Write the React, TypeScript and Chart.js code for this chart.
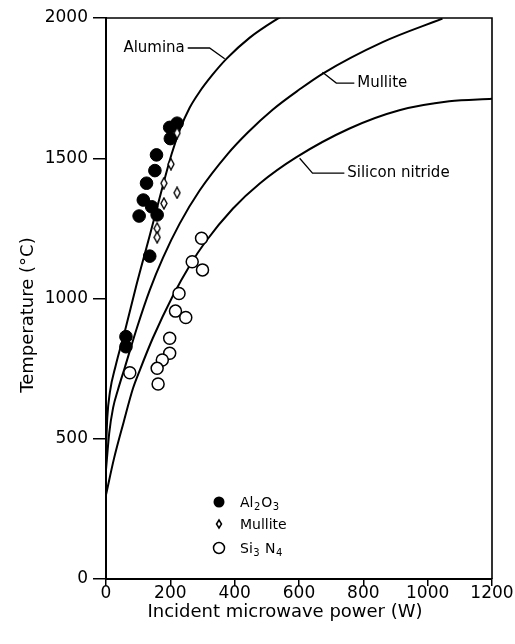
import React, { useEffect, useRef } from 'react';
import { Chart, registerables } from 'chart.js';

Chart.register(...registerables);

const FONT = '"DejaVu Sans", sans-serif';

// Axis ticks
const xTickValues = [0, 200, 400, 600, 800, 1000, 1200];
const yTickValues = [0, 500, 1000, 1500, 2000];

// Model curves (incident power W, temperature °C)
const aluminaP = [0, 4, 12, 30, 59, 95, 136, 167, 204, 230, 260, 291, 330, 375, 447, 530, 560];
const aluminaT = [460, 575, 665, 760, 885, 1050, 1225, 1360, 1515, 1603, 1680, 1737, 1796, 1855, 1930, 1995, 2015];

const mulliteP = [0, 10, 22, 37, 59, 96, 136, 177, 229, 291, 378, 440, 518, 600, 674, 860, 1046];
const mulliteT = [390, 520, 610, 674, 756, 895, 1030, 1145, 1267, 1385, 1515, 1591, 1673, 1744, 1802, 1914, 1998];

const siliconP = [0, 25, 55, 84, 105, 146, 208, 260, 306, 394, 478, 591, 757, 912, 1067, 1200];
const siliconT = [300, 430, 560, 680, 744, 860, 1010, 1117, 1197, 1320, 1410, 1503, 1606, 1671, 1703, 1712];

// Measured points
const al2o3P = [221, 198, 200, 157, 152, 126, 116, 142, 103, 159, 136, 62, 62];
const al2o3T = [1625, 1610, 1570, 1512, 1456, 1411, 1351, 1327, 1294, 1298, 1151, 864, 828];

const mullitePtP = [221, 202, 180, 221, 180, 159, 159];
const mullitePtT = [1590, 1479, 1411, 1377, 1339, 1250, 1218];

const si3n4P = [297, 268, 300, 227, 216, 248, 198, 198, 175, 159, 162, 74];
const si3n4T = [1215, 1131, 1102, 1018, 955, 932, 858, 805, 781, 751, 695, 735];

const curveLabels = ['Alumina', 'Mullite', 'Silicon nitride'];
const legendLabels = [
  [['Al', 0], ['2', 1], ['O', 0], ['3', 1]],
  [['Mullite', 0]],
  [['Si', 0], ['3', 1], [' N', 0], ['4', 1]],
];

const toXY = (xs: number[], ys: number[]) => xs.map((x, i) => ({ x, y: ys[i] }));

function diamondCanvas(w: number, h: number, lw: number) {
  const c = document.createElement('canvas');
  c.width = w + 2;
  c.height = h + 2;
  const ctx = c.getContext('2d')!;
  ctx.fillStyle = '#fff';
  ctx.strokeStyle = '#000';
  ctx.lineWidth = lw;
  ctx.beginPath();
  ctx.moveTo(c.width / 2, 1);
  ctx.lineTo(c.width - 1, c.height / 2);
  ctx.lineTo(c.width / 2, c.height - 1);
  ctx.lineTo(1, c.height / 2);
  ctx.closePath();
  ctx.fill();
  ctx.stroke();
  return c;
}

const decorPlugin = {
  id: 'decor',
  afterDraw(chart: any) {
    const { ctx, chartArea, scales } = chart;
    const xs = scales.x;
    const ys = scales.y;
    const px = (v: number) => xs.getPixelForValue(v);
    const py = (v: number) => ys.getPixelForValue(v);
    ctx.save();
    // frame (top/right)
    ctx.strokeStyle = '#000';
    ctx.lineWidth = 1.6;
    ctx.beginPath();
    ctx.moveTo(chartArea.left, chartArea.top);
    ctx.lineTo(chartArea.right, chartArea.top);
    ctx.lineTo(chartArea.right, chartArea.bottom);
    ctx.stroke();

    // curve labels with leaders
    ctx.lineWidth = 1.3;
    ctx.fillStyle = '#000';
    ctx.font = `15px ${FONT}`;
    ctx.textBaseline = 'middle';
    // Alumina
    ctx.beginPath();
    ctx.moveTo(px(254), py(1893));
    ctx.lineTo(px(322), py(1893));
    ctx.lineTo(px(369), py(1855));
    ctx.stroke();
    ctx.textAlign = 'right';
    ctx.fillText(curveLabels[0], px(245), py(1893));
    // Mullite
    ctx.beginPath();
    ctx.moveTo(px(673), py(1807));
    ctx.lineTo(px(716), py(1768));
    ctx.lineTo(px(772), py(1768));
    ctx.stroke();
    ctx.textAlign = 'left';
    ctx.fillText(curveLabels[1], px(781), py(1768));
    // Silicon nitride
    ctx.beginPath();
    ctx.moveTo(px(602), py(1500));
    ctx.lineTo(px(642), py(1447));
    ctx.lineTo(px(741), py(1447));
    ctx.stroke();
    ctx.fillText(curveLabels[2], px(750), py(1447));

    // legend
    const lx = chartArea.left + 113;
    const rows = [chartArea.bottom - 77, chartArea.bottom - 55, chartArea.bottom - 31];
    ctx.fillStyle = '#000';
    ctx.beginPath();
    ctx.arc(lx, rows[0], 5.5, 0, Math.PI * 2);
    ctx.fill();
    ctx.fillStyle = '#fff';
    ctx.lineWidth = 1.5;
    ctx.beginPath();
    ctx.moveTo(lx, rows[1] - 4);
    ctx.lineTo(lx + 2.5, rows[1]);
    ctx.lineTo(lx, rows[1] + 4);
    ctx.lineTo(lx - 2.5, rows[1]);
    ctx.closePath();
    ctx.fill();
    ctx.stroke();
    ctx.beginPath();
    ctx.arc(lx, rows[2], 5.5, 0, Math.PI * 2);
    ctx.fill();
    ctx.stroke();
    ctx.fillStyle = '#000';
    ctx.textAlign = 'left';
    ctx.textBaseline = 'alphabetic';
    legendLabels.forEach((parts, i) => {
      let x = lx + 21;
      const base = rows[i] + 5;
      parts.forEach(([t, sub]) => {
        ctx.font = sub ? `10px ${FONT}` : `14px ${FONT}`;
        ctx.fillText(t as string, x, sub ? base + 3 : base);
        x += ctx.measureText(t as string).width + (sub ? 1 : 0.5);
      });
    });

    // axis titles
    ctx.font = `18px ${FONT}`;
    ctx.textAlign = 'center';
    ctx.textBaseline = 'middle';
    ctx.fillText('Incident microwave power (W)', 285, 612);
    ctx.translate(28, 315);
    ctx.rotate(-Math.PI / 2);
    ctx.fillText('Temperature (°C)', 0, 0);
    ctx.restore();
  },
};

const lineDs = (label: string, xs: number[], ys: number[]) =>
  ({
    type: 'line',
    label,
    data: toXY(xs, ys),
    borderColor: '#000',
    borderWidth: 2,
    pointRadius: 0,
    cubicInterpolationMode: 'monotone',
    fill: false,
  } as any);

export default function App() {
  const ref = useRef<HTMLCanvasElement>(null);
  useEffect(() => {
    if (!ref.current) return;
    const diamond = diamondCanvas(6, 11, 1.4);
    const chart = new Chart(ref.current, {
      type: 'scatter',
      data: {
        datasets: [
          {
            label: 'Mullite',
            data: toXY(mullitePtP, mullitePtT),
            pointStyle: diamond as any,
            pointRadius: 6,
            backgroundColor: '#fff',
            borderColor: '#000',
          },
          {
            label: 'Al2O3',
            data: toXY(al2o3P, al2o3T),
            pointStyle: 'circle',
            pointRadius: 6.3,
            backgroundColor: '#000',
            borderColor: '#000',
            borderWidth: 1,
          },
          {
            label: 'Si3N4',
            data: toXY(si3n4P, si3n4T),
            pointStyle: 'circle',
            pointRadius: 6,
            backgroundColor: '#fff',
            borderColor: '#000',
            borderWidth: 1.5,
          },
          lineDs('Alumina curve', aluminaP, aluminaT),
          lineDs('Mullite curve', mulliteP, mulliteT),
          lineDs('Silicon nitride curve', siliconP, siliconT),
        ],
      },
      options: {
        animation: false,
        responsive: true,
        maintainAspectRatio: false,
        layout: { padding: { top: 18, right: 23, left: 0, bottom: 0 } },
        plugins: {
          legend: { display: false },
          tooltip: { enabled: false },
        },
        scales: {
          x: {
            type: 'linear',
            min: 0,
            max: 1200,
            afterFit: (s: any) => {
              s.height = 65;
            },
            afterBuildTicks: (s: any) => {
              s.ticks = xTickValues.map((v) => ({ value: v }));
            },
            ticks: {
              color: '#000',
              font: { family: FONT, size: 17 },
              padding: -3,
              maxRotation: 0,
              callback: (v: any) => String(v),
            },
            grid: {
              drawOnChartArea: false,
              drawTicks: true,
              tickLength: 7,
              color: '#000',
              lineWidth: 1.5,
            },
            border: { color: '#000', width: 2 },
          },
          y: {
            type: 'linear',
            min: 0,
            max: 2000,
            afterFit: (s: any) => {
              s.width = 106;
            },
            afterBuildTicks: (s: any) => {
              s.ticks = yTickValues.map((v) => ({ value: v }));
            },
            ticks: {
              color: '#000',
              font: { family: FONT, size: 17 },
              padding: 5,
              callback: (v: any) => String(v),
            },
            grid: {
              drawOnChartArea: false,
              drawTicks: true,
              tickLength: 13,
              color: '#000',
              lineWidth: 1.5,
            },
            border: { color: '#000', width: 2 },
          },
        },
      },
      plugins: [decorPlugin],
    });
    return () => chart.destroy();
  }, []);
  return (
    <div style={{ position: 'fixed', left: 0, top: 0, width: 515, height: 644, background: '#fff' }}>
      <canvas ref={ref} />
    </div>
  );
}
